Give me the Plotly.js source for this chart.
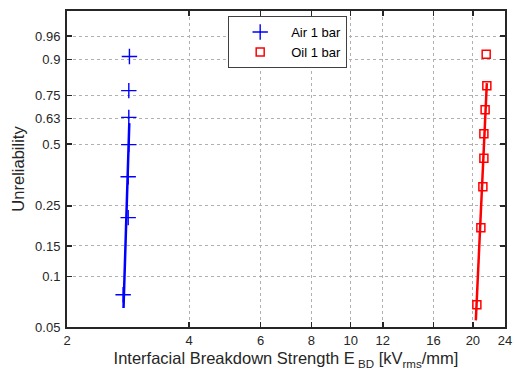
<!DOCTYPE html>
<html>
<head>
<meta charset="utf-8">
<script src="https://cdn.plot.ly/plotly-3.0.1.min.js"></script>
<style>
  html, body { margin: 0; padding: 0; background: #fff; }
  #chart { width: 515px; height: 379px; }
</style>
</head>
<body>
<div id="chart"></div>
<script>
// Measured breakdown strengths (kV_rms/mm) with their ranked unreliability
const airStrength = [2.75, 2.83, 2.83, 2.84, 2.84, 2.84, 2.85];
const airUnreliability = [0.078, 0.216, 0.353, 0.497, 0.637, 0.773, 0.91];
const oilStrength = [20.46, 20.93, 21.17, 21.29, 21.29, 21.44, 21.65, 21.57];
const oilUnreliability = [0.068, 0.19, 0.314, 0.432, 0.552, 0.677, 0.796, 0.917];

// End points of the fitted Weibull lines
const airFitStrength = [2.756, 2.848];
const airFitUnreliability = [0.065, 0.607];
const oilFitStrength = [20.34, 21.65];
const oilFitUnreliability = [0.0548, 0.808];

// Axis ticks
const xTicks = [2, 4, 6, 8, 10, 12, 16, 20, 24];
const yTicks = [0.05, 0.1, 0.15, 0.25, 0.5, 0.63, 0.75, 0.9, 0.96];
const yTickLabels = ['0.05', '0.1', '0.15', '0.25', '0.5', '0.63', '0.75', '0.9', '0.96'];
const xLimits = [2, 24];
const yLimits = [0.05, 0.99];

// Weibull probability paper: y = ln(-ln(1 - F))
const weibull = p => Math.log(-Math.log(1 - p));

const axisColor = '#262626';
const font = { family: 'Liberation Sans, Arial, sans-serif', color: axisColor };

const traces = [
  {
    name: 'Air 1 bar', x: airStrength, y: airUnreliability.map(weibull),
    mode: 'markers', type: 'scatter',
    marker: { symbol: 'cross-thin', size: 11, color: '#0000ff', line: { color: '#0000ff', width: 1.4 } }
  },
  {
    name: 'Oil 1 bar', x: oilStrength, y: oilUnreliability.map(weibull),
    mode: 'markers', type: 'scatter',
    marker: { symbol: 'square-open', size: 8, color: '#ff0000', line: { color: '#ff0000', width: 1.5 } }
  },
  {
    x: airFitStrength, y: airFitUnreliability.map(weibull), mode: 'lines', type: 'scatter',
    line: { color: '#0000ff', width: 2.5 }, showlegend: false, hoverinfo: 'skip'
  },
  {
    x: oilFitStrength, y: oilFitUnreliability.map(weibull), mode: 'lines', type: 'scatter',
    line: { color: '#ff0000', width: 2.5 }, showlegend: false, hoverinfo: 'skip'
  }
];

const commonAxis = {
  showline: true, linecolor: axisColor, linewidth: 2, mirror: 'ticks',
  ticks: 'inside', ticklen: 5, tickwidth: 1.5, tickcolor: axisColor,
  showgrid: true, gridcolor: '#b0b0b0', gridwidth: 1, griddash: 'dot',
  zeroline: false, tickfont: { size: 13, color: axisColor }
};

const layout = {
  width: 515, height: 379,
  margin: { l: 67, r: 10, t: 11, b: 52 },
  paper_bgcolor: '#fff', plot_bgcolor: '#fff',
  font: font,
  showlegend: true,
  legend: {
    x: 0.368, y: 0.984, xanchor: 'left', yanchor: 'top',
    bgcolor: '#fff', bordercolor: '#404040', borderwidth: 1,
    font: { size: 13, color: '#000' }, itemwidth: 52, tracegroupgap: 0
  },
  xaxis: Object.assign({}, commonAxis, {
    type: 'log',
    range: xLimits.map(Math.log10),
    tickmode: 'array', tickvals: xTicks, ticktext: xTicks.map(String),
    title: { text: 'Interfacial Breakdown Strength E<sub> BD</sub> [kV<sub>rms</sub>/mm]', font: { size: 16.5, color: axisColor }, standoff: 6 }
  }),
  yaxis: Object.assign({}, commonAxis, {
    type: 'linear',
    range: yLimits.map(weibull),
    tickmode: 'array', tickvals: yTicks.map(weibull), ticktext: yTickLabels,
    ticklabelstandoff: 2,
    title: { text: 'Unreliability', font: { size: 16.5, color: axisColor }, standoff: 6 }
  })
};

Plotly.newPlot('chart', traces, layout, { displayModeBar: false, staticPlot: true });
</script>
</body>
</html>
